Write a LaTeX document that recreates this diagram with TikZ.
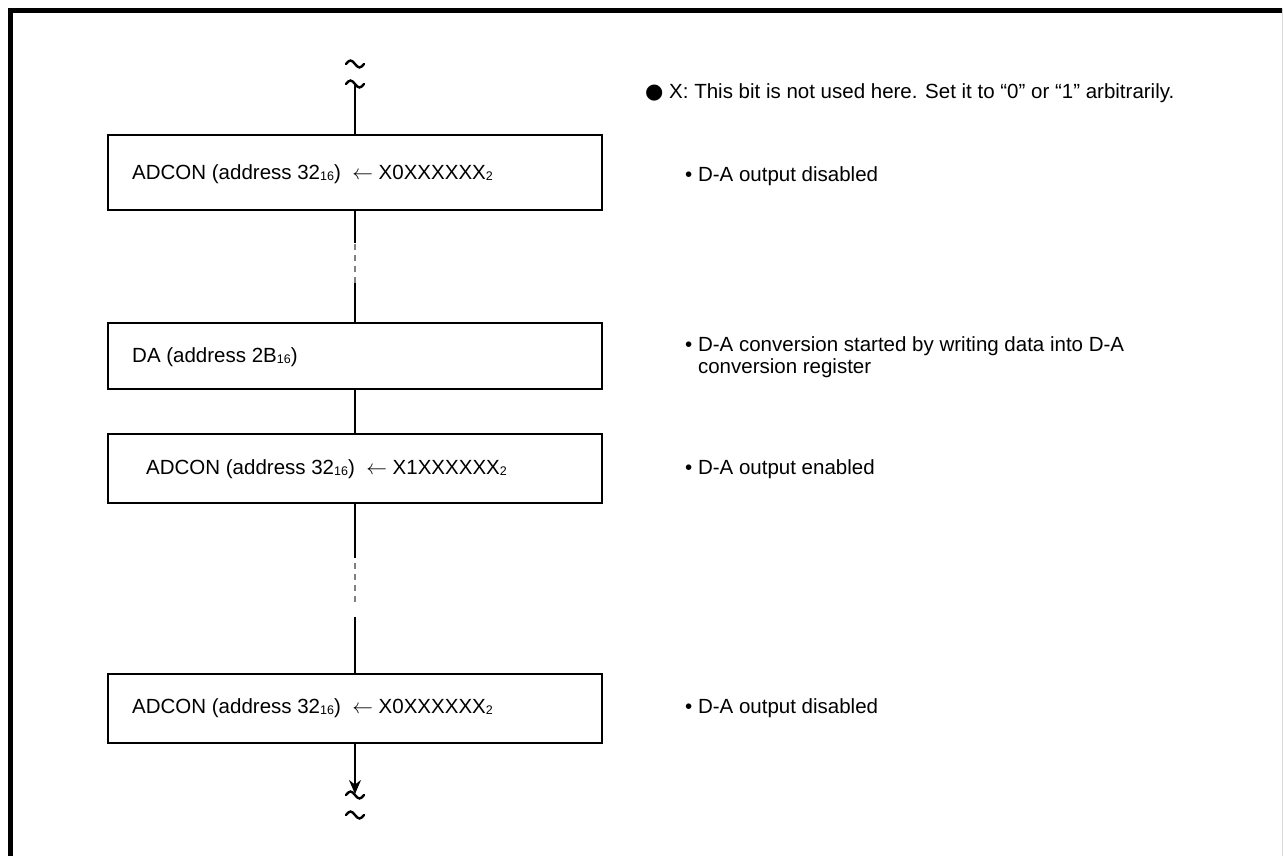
\documentclass[tikz,border=0pt]{standalone}
\usepackage{fontspec}
\setmainfont{Liberation Sans}
\newfontfamily\symfont{DejaVu Sans}
\usetikzlibrary{arrows.meta,calc}
\newcommand\sbs[1]{\raisebox{-0.1ex}{\fontsize{12.5}{12.5}\selectfont #1}}
\tikzset{
  stepbox/.style={draw, line width=1.8pt, minimum width=494pt, anchor=north, inner sep=0pt, outer sep=0pt},
  boxtext/.style={anchor=west, font=\fontsize{20.5}{24}\selectfont, inner sep=0pt},
  note/.style={anchor=west, font=\fontsize{20.5}{22}\selectfont, inner sep=0pt, align=left},
  legend/.style={anchor=west, font=\fontsize{20.5}{22}\selectfont, inner sep=0pt},
  conn/.style={line width=1.3pt},
  gap/.style={line width=1.3pt, draw=gray, dash pattern=on 6pt off 5pt},
  tilde/.style={line width=2.4pt, line cap=round}
}
\newcommand\tld[1]{\draw[tilde] ($(#1)+(-9,0)$) sin ($(#1)+(-4.5,3.5)$) cos ($(#1)+(0,0)$) sin ($(#1)+(4.5,-3.5)$) cos ($(#1)+(9,0)$);}
\begin{document}
\begin{tikzpicture}[x=1pt,y=1pt]
\useasboundingbox (0,0) rectangle (1283,-856);
% frame
\draw[line width=5pt] (10.5,-856) -- (10.5,-10.5) -- (1283,-10.5);
\draw[gray!30, line width=0.8pt] (1282.5,-8) -- (1282.5,-856);
% boxes
\node[stepbox, minimum height=75pt] (b1) at (355,-135) {};
\node[stepbox, minimum height=66pt] (b2) at (355,-323) {};
\node[stepbox, minimum height=69pt] (b3) at (355,-434) {};
\node[stepbox, minimum height=69pt] (b4) at (355,-674) {};
\node[boxtext] (t1) at (132,-174) {ADCON (address 32\sbs{16})\ \ $\leftarrow$ X0XXXXXX\sbs{2}};
\node[boxtext] (t2) at (132,-357) {DA (address 2B\sbs{16})};
\node[boxtext] (t3) at (146,-469) {ADCON (address 32\sbs{16})\ \ $\leftarrow$ X1XXXXXX\sbs{2}};
\node[boxtext] (t4) at (132,-708) {ADCON (address 32\sbs{16})\ \ $\leftarrow$ X0XXXXXX\sbs{2}};
% tildes
\coordinate (ta) at (355,-64);
\coordinate (tb) at (355,-84);
\coordinate (tc) at (355,-795);
\coordinate (td) at (355,-815);
\tld{ta}\tld{tb}\tld{tc}\tld{td}
% connectors
\coordinate (g1a) at (355,-243);
\coordinate (g1b) at (355,-283);
\coordinate (g2a) at (355,-558);
\coordinate (g2b) at (355,-617);
\draw[conn] (tb) -- (b1.north);
\draw[conn] (b1.south) -- (g1a);
\draw[gap] ([yshift=-1pt]g1a) -- (g1b);
\draw[conn] (g1b) -- (b2.north);
\draw[conn] (b2.south) -- (b3.north);
\draw[conn] (b3.south) -- (g2a);
\draw[gap] ([yshift=-5pt]g2a) -- ([yshift=15pt]g2b);
\draw[conn] (g2b) -- (b4.north);
\draw[conn, -{Stealth[length=14pt,width=12pt]}] (b4.south) -- ([yshift=1pt]tc);
% notes
\node[legend] (n0) at (645,-93) {{\symfont\fontsize{21}{21}\selectfont ●} X: This bit is not used here. Set it to “0” or “1” arbitrarily.};
\node[note] (n1) at (685,-176) {• D-A output disabled};
\node[note, anchor=north west] (n2) at (685,-336) {• D-A conversion started by writing data into D-A\\\phantom{• }conversion register};
\node[note] (n3) at (685,-469) {• D-A output enabled};
\node[note] (n4) at (685,-708) {• D-A output disabled};
\end{tikzpicture}
\end{document}
